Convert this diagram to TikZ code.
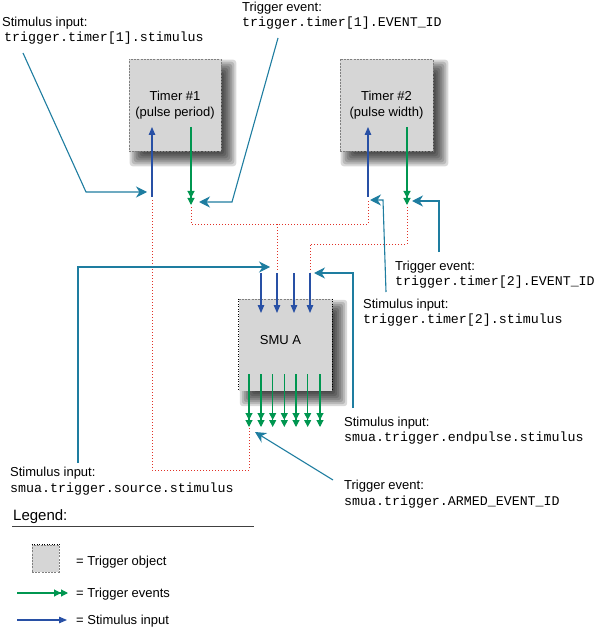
\documentclass[tikz,border=0pt]{standalone}
\usepackage{fontspec}
\setmainfont{Liberation Sans}
\setmonofont{Liberation Mono}
\usetikzlibrary{arrows.meta,calc,backgrounds}
\definecolor{leadc}{RGB}{30,125,160}
\definecolor{stimblue}{RGB}{40,80,165}
\definecolor{evgreen}{RGB}{0,150,80}
\definecolor{dotred}{RGB}{225,50,40}
\definecolor{boxgray}{RGB}{214,214,214}
\tikzset{
  x=1pt, y=1pt,
  objbox/.style={fill=boxgray, minimum width=92pt, minimum height=92pt, inner sep=0pt,
    align=center, font=\fontsize{13}{15.5}\selectfont},
  shadowlayer/.style={fill=black, opacity=0.15, rounded corners=3pt},
  graydash/.style={draw=gray, line width=0.6pt, dash pattern=on 2pt off 1.2pt},
  blackdot/.style={draw=black, line width=0.7pt, dash pattern=on 1pt off 1.5pt},
  lbl/.style={anchor=base west, inner sep=0pt, font=\fontsize{13}{15.5}\selectfont},
  code/.style={anchor=base west, inner sep=0pt, font=\fontsize{13.3}{15.5}\ttfamily},
  leader/.style={draw=leadc, line width=1.1pt, -{Stealth[length=11pt,width=11pt,inset=3.5pt]}},
  stimarrow/.style={draw=stimblue, line width=1.1pt, -{Triangle[length=8pt,width=6.5pt]}},
  evarrow/.style={draw=evgreen, line width=1.1pt, -{Triangle[length=7pt,width=7pt]Triangle[length=7pt,width=7pt]}},
  redlink/.style={draw=dotred, line width=0.8pt, dash pattern=on 1pt off 2pt},
}
\begin{document}
\begin{tikzpicture}
\useasboundingbox (0,0) rectangle (603,-628);

% boxes
\node[objbox, graydash] (t1) at (175,-105) {Timer \#1\\(pulse period)};
\node[objbox, graydash, minimum width=93pt] (t2) at (386.5,-105) {Timer \#2\\(pulse width)};
\node[objbox, minimum width=93pt] (smu) at (285.5,-345) {};
\draw[graydash] (smu.north west) -- (smu.north east);
\draw[blackdot] (smu.north west) -- (smu.south west);
\draw[blackdot] (smu.north east) -- (smu.south east);
\node[lbl, anchor=center] (smutext) at (280.5,-340) {SMU A};

% soft shadows
\begin{scope}[on background layer]
\foreach \b in {t1,t2,smu}{
  \foreach \k in {0,...,7}{
    \pgfmathsetmacro{\d}{-7+2*\k}
    \fill[shadowlayer] ($(\b.north west)+(8+\d,-8-\d)$) rectangle ($(\b.south east)+(8-\d,-8+\d)$);
  }
}
\end{scope}

% coordinates
\coordinate (t1inB) at (152,-197);
\coordinate (t1inT) at (152,-127);
\coordinate (t1evT) at (191,-127);
\coordinate (t1evB) at (191,-205);
\coordinate (t2inB) at (368,-197);
\coordinate (t2inT) at (368,-127);
\coordinate (t2evT) at (407,-127);
\coordinate (t2evB) at (407,-205);

% red dotted links
\coordinate (r1a) at (152,-200);
\coordinate (r1b) at (152,-470);
\coordinate (r1c) at (249,-470);
\coordinate (r1d) at (249,-428);
\draw[redlink] (r1a) -- (r1b) -- (r1c) -- (r1d);
\coordinate (r2a) at (191,-207);
\coordinate (r2b) at (191,-224);
\coordinate (r2c) at (368,-224);
\coordinate (r2d) at (368,-200);
\draw[redlink] (r2a) -- (r2b) -- (r2c) -- (r2d);
\coordinate (r3a) at (277,-224);
\coordinate (r3b) at (277,-272);
\draw[redlink] (r3a) -- (r3b);
\coordinate (r4a) at (407,-207);
\coordinate (r4b) at (407,-244);
\coordinate (r4c) at (310,-244);
\coordinate (r4d) at (310,-272);
\draw[redlink] (r4a) -- (r4b) -- (r4c) -- (r4d);

% timer arrows
\draw[stimarrow] (t1inB) -- (t1inT);
\draw[evarrow] (t1evT) -- (t1evB);
\draw[stimarrow] (t2inB) -- (t2inT);
\draw[evarrow] (t2evT) -- (t2evB);

% SMU inputs
\foreach \i/\x in {1/261,2/277,3/294,4/310}{
  \coordinate (si\i t) at (\x,-273);
  \coordinate (si\i b) at (\x,-313);
  \draw[stimarrow] (si\i t) -- (si\i b);
}
% SMU outputs
\foreach \i/\x in {1/249,2/261,3/272.7,4/284.3,5/296,6/307.7,7/320}{
  \coordinate (so\i t) at (\x,-374);
  \coordinate (so\i b) at (\x,-427);
  \draw[evarrow] (so\i t) -- (so\i b);
}

% labels
\node[lbl] (l1a) at (2,-27) {Stimulus input:};
\node[code] (l1b) at (4,-42) {trigger.timer[1].stimulus};
\node[lbl] (l2a) at (242,-12) {Trigger event:};
\node[code] (l2b) at (242,-27) {trigger.timer[1].EVENT\_ID};
\node[lbl] (l3a) at (395,-270) {Trigger event:};
\node[code] (l3b) at (395,-285) {trigger.timer[2].EVENT\_ID};
\node[lbl] (l4a) at (363,-308) {Stimulus input:};
\node[code] (l4b) at (363,-323) {trigger.timer[2].stimulus};
\node[lbl] (l5a) at (344,-426) {Stimulus input:};
\node[code] (l5b) at (344,-441) {smua.trigger.endpulse.stimulus};
\node[lbl] (l6a) at (344,-489) {Trigger event:};
\node[code] (l6b) at (344,-505) {smua.trigger.ARMED\_EVENT\_ID};
\node[lbl] (l7a) at (10,-476) {Stimulus input:};
\node[code] (l7b) at (10,-492) {smua.trigger.source.stimulus};

% leaders
\coordinate (a1s) at (23,-53);
\coordinate (a1m) at (86,-192);
\coordinate (a1e) at (147,-192);
\draw[leader] (a1s) -- (a1m) -- (a1e);
\coordinate (a2s) at (278,-38);
\coordinate (a2m) at (232,-202);
\coordinate (a2e) at (199,-202);
\draw[leader] (a2s) -- (a2m) -- (a2e);
\coordinate (a3s) at (386,-292);
\coordinate (a3m) at (383,-200);
\coordinate (a3e) at (370,-200);
\draw[leader] (a3s) -- (a3m) -- (a3e);
\coordinate (a4s) at (439,-252);
\coordinate (a4m) at (439,-201);
\coordinate (a4e) at (412,-201);
\draw[leader] (a4s) -- (a4m) -- (a4e);
\coordinate (a5s) at (78,-463);
\coordinate (a5m) at (78,-267);
\coordinate (a5e) at (270,-267);
\draw[leader] (a5s) -- (a5m) -- (a5e);
\coordinate (a6s) at (353,-408);
\coordinate (a6m) at (353,-273);
\coordinate (a6e) at (314,-273);
\draw[leader] (a6s) -- (a6m) -- (a6e);
\coordinate (a7s) at (333,-480);
\coordinate (a7e) at (255,-432);
\draw[leader] (a7s) -- (a7e);

% legend
\node[lbl, font=\fontsize{15}{18}\selectfont] (leg) at (13,-520) {Legend:};
\coordinate (lgl) at (12,-526);
\coordinate (lgr) at (254,-526);
\draw[line width=1pt, draw=black!75] (lgl) -- (lgr);
\node[fill=boxgray, minimum width=27pt, minimum height=27pt, inner sep=0pt, graydash] (lbox) at (45.5,-558.5) {};
\draw[blackdot] (lbox.north west) -- (lbox.north east);
\node[lbl] (lt1) at (76,-565) {= Trigger object};
\coordinate (lg1) at (17,-593);
\coordinate (lg2) at (68,-593);
\draw[evarrow] (lg1) -- (lg2);
\node[lbl] (lt2) at (76,-597) {= Trigger events};
\coordinate (lb1) at (17,-620);
\coordinate (lb2) at (67,-620);
\draw[stimarrow] (lb1) -- (lb2);
\node[lbl] (lt3) at (76,-624) {= Stimulus input};
\end{tikzpicture}
\end{document}
